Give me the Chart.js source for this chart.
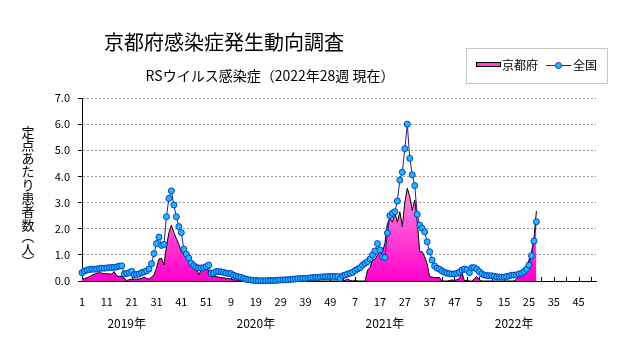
<!DOCTYPE html>
<html>
<head>
<meta charset="utf-8">
<script src="https://cdn.jsdelivr.net/npm/chart.js@4.4.0/dist/chart.umd.min.js"></script>
<style>
  html, body { margin: 0; padding: 0; background: #fff; }
</style>
</head>
<body>
<canvas id="chart" width="631" height="347"></canvas>
<script>
// --- データ (京都府 / 全国, 定点あたり患者数, 週別) ---
const years = [2019, 2020, 2021, 2022];
const weeksPerYear = 52;
const xTickLabels = ['1','11','21','31','41','51','9','19','29','39','49','7','17','27','37','47','5','15','25','35','45'];
const yTicks = [0, 1, 2, 3, 4, 5, 6, 7];

const kyoto2019 = [0.07,0.10,0.12,0.17,0.22,0.26,0.30,0.32,0.30,0.28, 0.28,0.27,0.27,0.36,0.19,0.18,0.17,0.11,0.02,0.05,
                   0.07,0.07,0.07,0.08,0.10,0.15,0.10,0.07,0.15,0.23, 0.50,0.84,0.87,0.62,1.31,1.85,2.14,1.85,1.63,1.40,
                   1.12,1.00,0.93,0.74,0.61,0.55,0.49,0.23,0.42,0.45, 0.45,0.42];
const kyoto2020 = [0.17,0.18,0.17,0.15,0.13,0.12,0.10,0.10,0.08,0.05, 0.04,0.03,0.03,0.03,0.02,0.02,0,0,0,0,
                   0,0,0,0,0,0,0,0,0,0, 0,0,0,0,0,0,0,0,0,0, 0,0,0,0,0,0,0,0,0,0, 0,0];
const kyoto2021 = [0,0,0.03,0.07,0.02,0,0.04,0,0,0, 0,0.42,0.52,0.80,0.83,1.00,1.12,1.12,1.44,2.20,
                   2.40,2.25,2.61,2.25,2.65,2.08,3.00,3.55,3.23,2.70, 3.10,2.30,1.12,1.12,0.93,0.65,0.17,0.15,0.13,0.13,
                   0.13,0,0,0,0.02,0.04,0.02,0.05,0.10,0.33, 0,0.03];
const kyoto2022 = [0,0,0.08,0.17,0.05,0,0,0,0,0, 0,0,0,0,0,0,0,0,0,0.08, 0.20,0.30,0.38,0.50,0.80,1.10,1.60,2.68];

const national2019 = [0.32,0.38,0.42,0.44,0.45,0.45,0.46,0.48,0.49,0.49, 0.50,0.51,0.52,0.52,0.54,0.57,0.58,0.27,0.29,0.32,
                      0.37,0.24,0.25,0.27,0.32,0.35,0.39,0.46,0.66,1.05, 1.43,1.68,1.36,1.40,2.46,3.16,3.45,2.91,2.46,2.08,
                      1.85,1.22,1.03,0.88,0.68,0.59,0.52,0.50,0.50,0.51, 0.55,0.61];
const national2020 = [0.29,0.31,0.36,0.36,0.35,0.33,0.30,0.29,0.28,0.22, 0.19,0.16,0.14,0.10,0.07,0.05,0.04,0.02,0.01,0.01,
                      0.01,0.01,0.01,0.01,0.02,0.02,0.02,0.03,0.04,0.04, 0.05,0.05,0.06,0.07,0.08,0.09,0.09,0.10,0.10,0.11,
                      0.12,0.13,0.14,0.14,0.15,0.16,0.16,0.17,0.17,0.18, 0.17,0.17];
const national2021 = [0.10,0.20,0.23,0.27,0.30,0.33,0.40,0.46,0.51,0.61, 0.68,0.74,0.84,1.00,1.15,1.43,1.19,0.92,0.90,1.84,
                      2.50,2.59,2.65,3.06,3.86,4.16,5.06,6.00,4.69,4.06, 3.65,2.55,2.14,2.02,1.88,1.50,1.12,0.80,0.57,0.49,
                      0.45,0.38,0.33,0.30,0.28,0.27,0.27,0.29,0.34,0.42, 0.46,0.43];
const national2022 = [0.32,0.51,0.51,0.45,0.36,0.27,0.23,0.21,0.20,0.20, 0.18,0.16,0.15,0.15,0.15,0.17,0.19,0.22,0.23,0.23,
                      0.27,0.30,0.36,0.45,0.61,0.97,1.53,2.27];
// ----------------------------------------------------------------

const kyoto = [].concat(kyoto2019, kyoto2020, kyoto2021, kyoto2022);
const national = [].concat(national2019, national2020, national2021, national2022);

// 横軸カテゴリ (各年 1〜52週)
const labels = [];
years.forEach(() => {
    for (let w = 1; w <= weeksPerYear; w++) labels.push(String(w));
});

const FONT = '"Noto Sans CJK JP", "Noto Sans", sans-serif';

// タイトル・凡例・軸ラベルなどの描画
const decorPlugin = {
    id: 'decor',
    beforeDatasetsDraw(chart) {
        // 横軸の目盛り (5週ごと, 上向き)
        const { ctx, scales: { x, y } } = chart;
        ctx.save();
        ctx.strokeStyle = '#000';
        ctx.lineWidth = 1;
        for (let i = 0; i < labels.length; i += 5) {
            const px = Math.round(x.getPixelForValue(i)) + 0.5;
            ctx.beginPath();
            ctx.moveTo(px, y.bottom);
            ctx.lineTo(px, y.bottom - 4);
            ctx.stroke();
        }
        ctx.restore();
    },
    afterDraw(chart) {
        const { ctx, scales: { x } } = chart;
        ctx.save();
        ctx.fillStyle = '#000';
        ctx.textAlign = 'center';
        ctx.textBaseline = 'middle';

        // タイトル
        ctx.font = '20px ' + FONT;
        ctx.fillText('京都府感染症発生動向調査', 224, 42);
        ctx.font = '14px ' + FONT;
        ctx.fillText('RSウイルス感染症（2022年28週 現在）', 270, 76);

        // 年ラベル
        ctx.font = '12px ' + FONT;
        years.forEach((yr, k) => {
            const px = x.getPixelForValue(k * weeksPerYear + 18);
            ctx.fillText(yr + '年', px, 323);
        });

        // 縦書きの軸ラベル
        ctx.font = '13px ' + FONT;
        const vChars = ['定','点','あ','た','り','患','者','数','︵','人','︶'];
        const vPos = [132,145,158,171,185,198,211,225,236,249,261];
        vChars.forEach((ch, k) => ctx.fillText(ch, 28, vPos[k]));

        // 凡例
        ctx.strokeStyle = '#8c8c8c';
        ctx.setLineDash([1, 1]);
        ctx.strokeRect(466.5, 48.5, 141, 35);
        ctx.setLineDash([]);
        ctx.fillStyle = '#ff44cc';
        ctx.fillRect(476, 62, 25, 5);
        ctx.strokeStyle = '#000';
        ctx.strokeRect(476.5, 62.5, 24, 4);
        ctx.fillStyle = '#000';
        ctx.textAlign = 'left';
        ctx.font = '12px ' + FONT;
        ctx.fillText('京都府', 502, 65);
        ctx.strokeStyle = '#202090';
        ctx.beginPath();
        ctx.moveTo(546, 65.5);
        ctx.lineTo(571, 65.5);
        ctx.stroke();
        ctx.beginPath();
        ctx.arc(558.5, 65.5, 3, 0, Math.PI * 2);
        ctx.fillStyle = '#20b8ff';
        ctx.fill();
        ctx.strokeStyle = '#0040c0';
        ctx.stroke();
        ctx.fillStyle = '#000';
        ctx.fillText('全国', 573, 65);
        ctx.restore();
    }
};

new Chart(document.getElementById('chart'), {
    type: 'line',
    data: {
        labels: labels,
        datasets: [
            {
                label: '全国',
                data: national,
                borderColor: '#202090',
                borderWidth: 1,
                pointRadius: 3,
                pointBackgroundColor: '#20b8ff',
                pointBorderColor: '#0040c0',
                pointBorderWidth: 1,
                fill: false,
                tension: 0,
                clip: false,
                order: 1
            },
            {
                label: '京都府',
                data: kyoto,
                borderColor: '#000',
                borderWidth: 1,
                pointRadius: 0,
                fill: 'origin',
                backgroundColor: (c) => {
                    const area = c.chart.chartArea;
                    if (!area) return '#ff44cc';
                    const g = c.chart.ctx.createLinearGradient(0, area.top, 0, area.bottom);
                    g.addColorStop(0, '#ffd0f0');
                    g.addColorStop(0.5, '#ff88dd');
                    g.addColorStop(1, '#ff00cc');
                    return g;
                },
                tension: 0,
                order: 2
            }
        ]
    },
    options: {
        responsive: false,
        animation: false,
        devicePixelRatio: 1,
        layout: { padding: { top: 98, right: 35, left: 0, bottom: 0 } },
        plugins: { legend: { display: false }, tooltip: { enabled: false } },
        scales: {
            x: {
                offset: false,
                grid: { display: false },
                border: { color: '#000', width: 1 },
                ticks: {
                    autoSkip: false, maxRotation: 0, minRotation: 0, padding: 6,
                    color: '#000', font: { family: FONT, size: 11 },
                    callback: (v, i) => (i % 10 === 0 ? xTickLabels[i / 10] : '')
                },
                afterFit: (s) => { s.height = 66; }
            },
            y: {
                min: yTicks[0],
                max: yTicks[yTicks.length - 1],
                afterBuildTicks: (s) => { s.ticks = yTicks.map(v => ({ value: v })); },
                ticks: {
                    padding: 8, color: '#000', font: { family: FONT, size: 11 },
                    callback: (v) => Number(v).toFixed(1)
                },
                grid: {
                    color: (c) => (c.index === 0 ? 'rgba(0,0,0,0)' : '#9a9a9a'),
                    tickColor: '#000',
                    tickLength: 4
                },
                border: { color: '#000', width: 1, dash: [2, 2] },
                afterFit: (s) => { s.width = 82; }
            }
        }
    },
    plugins: [decorPlugin]
});
</script>
</body>
</html>
